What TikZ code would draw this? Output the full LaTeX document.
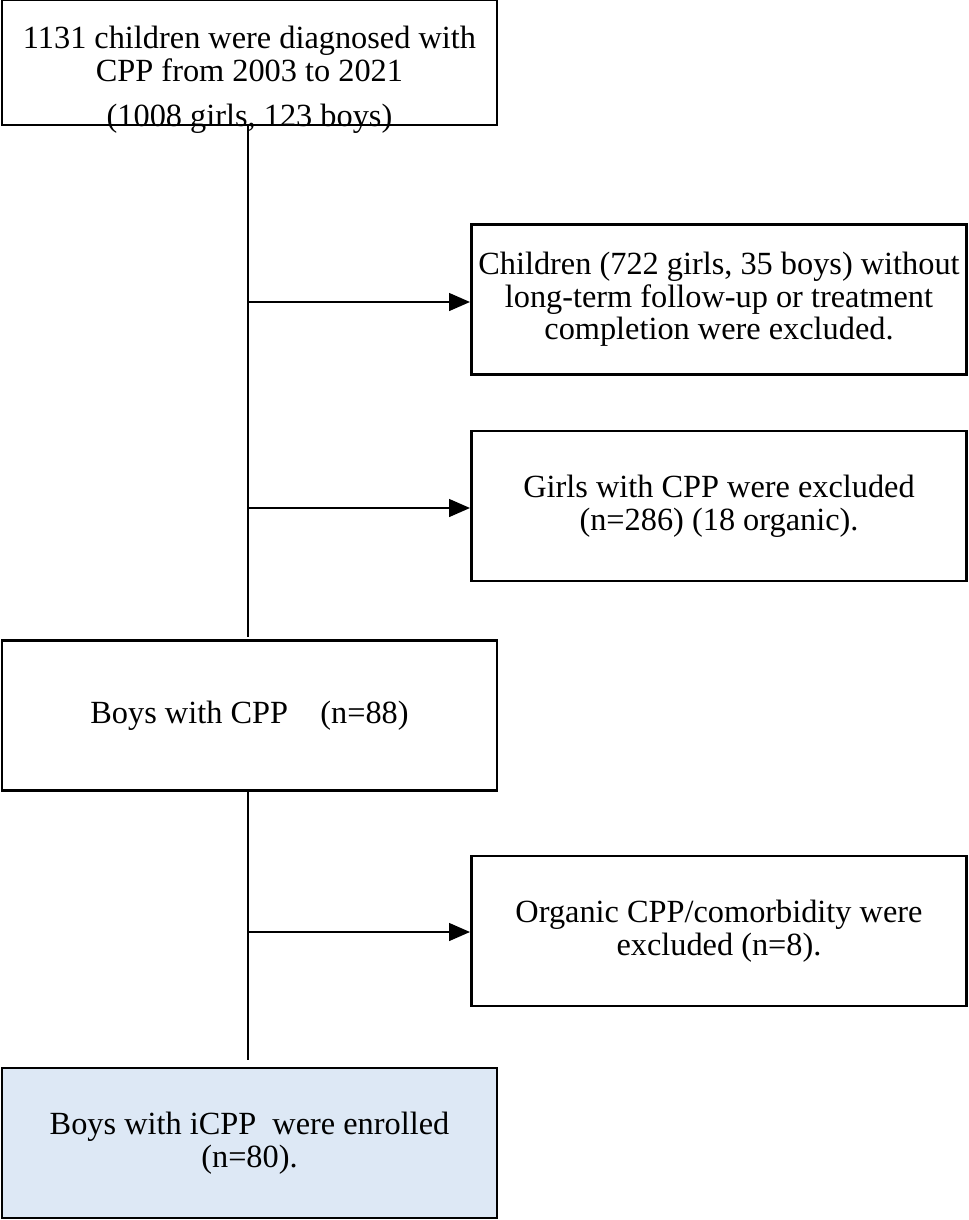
\documentclass[tikz,border=0pt]{standalone}
\usepackage{fontspec}
\setmainfont{Liberation Serif}
\usetikzlibrary{arrows.meta}
\begin{document}
\begin{tikzpicture}[x=0.02cm,y=-0.02cm,line width=1.6pt,
    txt/.style={align=center,inner sep=0pt,font=\fontsize{18.4}{18.6}\selectfont},
    box/.style={draw,txt},
    bigbox/.style={box,minimum width=495*0.02cm,minimum height=150*0.02cm},
    arr/.style={-{Triangle[length=12pt,width=10pt]}}]
  \useasboundingbox (0,0) rectangle (969,1220);
  \node[box,minimum width=495*0.02cm,minimum height=125*0.02cm] (start) at (249.5,62.5) {};
  \node[txt] (starttext) at (249.5,80)
    {1131 children were diagnosed with\\CPP from 2003 to 2021\\[7pt](1008 girls, 123 boys)};
  \node[bigbox] (excl1) at (719,299.5)
    {Children (722 girls, 35 boys) without\\long-term follow-up or treatment\\completion were excluded.};
  \node[bigbox] (excl2) at (719,506)
    {Girls with CPP were excluded\\(n=286) (18 organic).};
  \node[bigbox] (boys) at (249.5,715.5) {Boys with CPP\quad(n=88)};
  \node[bigbox] (excl3) at (719,931)
    {Organic CPP/comorbidity were\\excluded (n=8).};
  \node[bigbox,fill={rgb,255:red,221;green,232;blue,245}] (final) at (249.5,1143)
    {Boys with iCPP\ \ were enrolled\\(n=80).};
  % trunk lines
  \coordinate (j1) at (248,302);
  \coordinate (j2) at (248,508);
  \coordinate (j3) at (248,932);
  \draw (start.south -| j1) -- (248,637);
  \draw (boys.south -| j3) -- (248,1060);
  \draw[arr] (j1) -- (excl1.west |- j1);
  \draw[arr] (j2) -- (excl2.west |- j2);
  \draw[arr] (j3) -- (excl3.west |- j3);
\end{tikzpicture}
\end{document}
